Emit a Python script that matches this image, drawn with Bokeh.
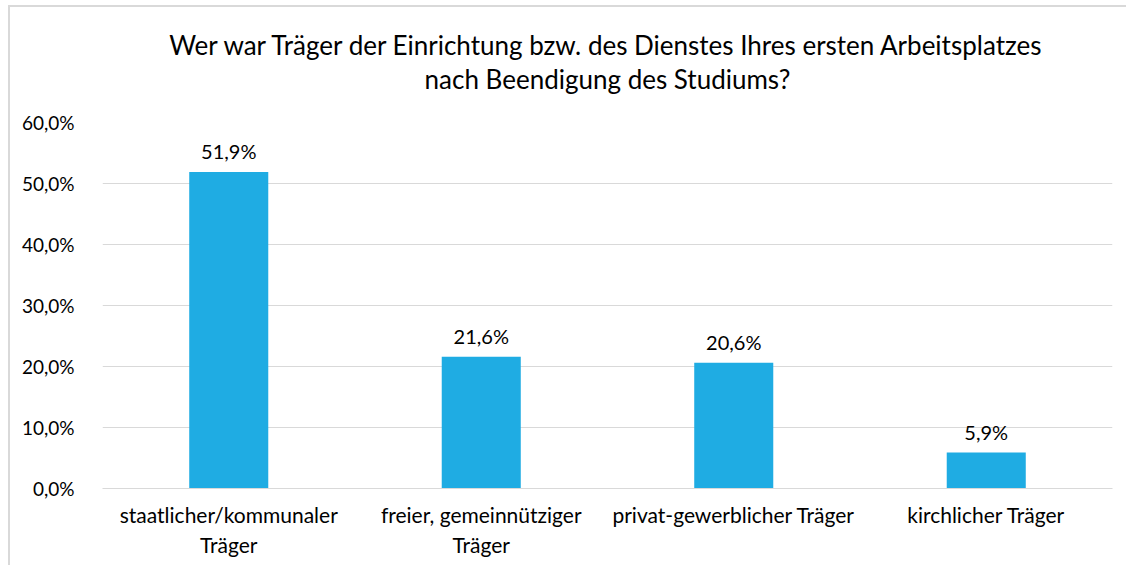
from bokeh.plotting import figure
from bokeh.models import ColumnDataSource, LabelSet, Title, FixedTicker, CustomJSTickFormatter
from bokeh.core.properties import value
from bokeh.embed import file_html
from bokeh.resources import INLINE

categories = ["staatlicher/kommunaler\nTräger", "freier, gemeinnütziger\nTräger",
              "privat-gewerblicher Träger", "kirchlicher Träger"]
values = [51.9, 21.6, 20.6, 5.9]
value_labels = ["51,9%", "21,6%", "20,6%", "5,9%"]
y_ticks = [0, 10, 20, 30, 40, 50, 60]
title_lines = ["Wer war Träger der Einrichtung bzw. des Dienstes Ihres ersten Arbeitsplatzes",
               "nach Beendigung des Studiums?"]

FONT = "Lato"
src = ColumnDataSource(dict(cat=categories, val=values, lab=value_labels))

p = figure(x_range=categories, y_range=(0, 60), width=1118, height=560,
           output_backend="svg", toolbar_location=None,
           min_border_left=92, min_border_right=16, min_border_bottom=79, min_border_top=0)

def title(text, size, standoff):
    return Title(text=text, align="center", text_font=FONT, text_font_size=size,
                 text_font_style="normal", text_color="#000000", standoff=standoff)

# closest to the frame first
p.add_layout(title(" ", "10px", 14), "above")
p.add_layout(title(title_lines[1], "26px", 0), "above")
p.add_layout(title(title_lines[0], "26px", 0), "above")
p.add_layout(title(" ", "10px", 5), "above")

p.vbar(x="cat", top="val", width=0.313, source=src, fill_color="#1FACE3", line_color=None)

labels = LabelSet(x="cat", y="val", text="lab", source=src, text_align="center",
                  text_baseline="bottom", y_offset=9, text_font=value(FONT),
                  text_font_size=value("20px"), text_color="#000000")
p.add_layout(labels)

p.yaxis.ticker = FixedTicker(ticks=y_ticks)
p.yaxis.formatter = CustomJSTickFormatter(code="return tick.toFixed(1).replace('.', ',') + '%';")
p.yaxis.axis_line_color = None
p.yaxis.major_tick_line_color = None
p.yaxis.minor_tick_line_color = None
p.yaxis.major_label_text_font = FONT
p.yaxis.major_label_text_font_size = "19px"
p.yaxis.major_label_text_color = "#000000"
p.yaxis.major_label_standoff = 22

p.xaxis.axis_line_color = "#D9D9D9"
p.xaxis.axis_line_width = 1
p.xaxis.major_tick_line_color = None
p.xaxis.minor_tick_line_color = None
p.xaxis.major_label_text_font = FONT
p.xaxis.major_label_text_font_size = "21px"
p.xaxis.major_label_text_color = "#000000"
p.xaxis.major_label_standoff = 7

p.xgrid.grid_line_color = None
p.ygrid.grid_line_color = "#D9D9D9"
p.ygrid.grid_line_width = 1
p.outline_line_color = None
p.x_range.range_padding = 0
p.styles = {"border-left": "2px solid #D9D9D9", "border-top": "2px solid #D9D9D9",
            "margin-left": "8px", "margin-top": "5px"}

open("out.html", "w").write(file_html(p, INLINE))
